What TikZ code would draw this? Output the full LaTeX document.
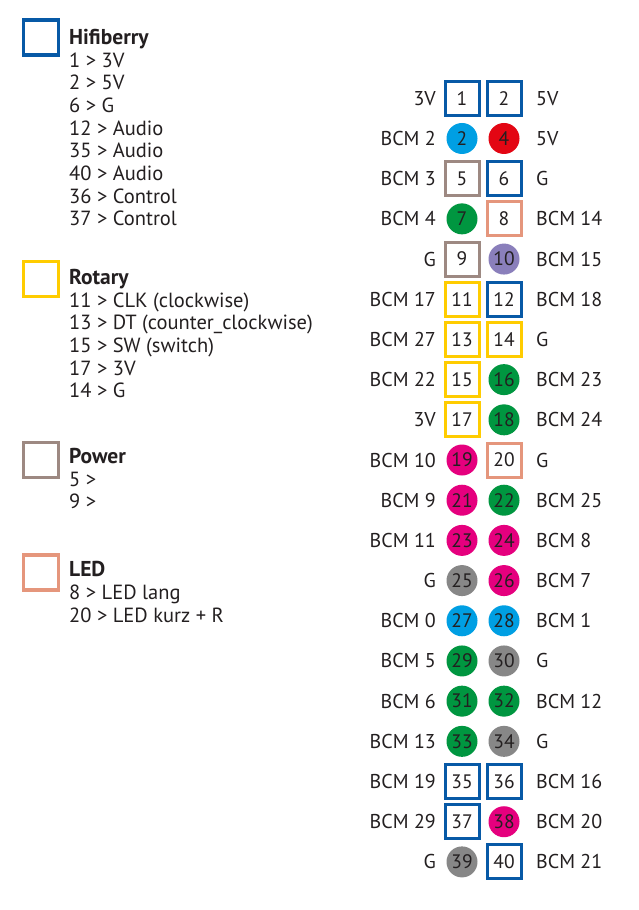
\documentclass[tikz,border=0pt]{standalone}
\usepackage{fontspec}
\setmainfont{PT Sans}
\definecolor{txt}{HTML}{231F20}
\definecolor{hifiblue}{HTML}{0759A6}
\definecolor{rotyel}{HTML}{FFCC00}
\definecolor{powgray}{HTML}{9D8982}
\definecolor{ledsal}{HTML}{E5967C}
\definecolor{ccyan}{HTML}{009FE3}
\definecolor{cred}{HTML}{E30613}
\definecolor{cgreen}{HTML}{009640}
\definecolor{cpurple}{HTML}{8A7FBB}
\definecolor{cmag}{HTML}{E5007E}
\definecolor{cgray}{HTML}{878787}
\begin{document}
\begin{tikzpicture}[x=1pt,y=-1pt,
  pinsq/.style={rectangle, draw=#1, line width=3pt, fill=white, minimum size=34pt, inner sep=0pt, text=txt, font=\fontsize{19.5}{19.5}\selectfont},
  pinci/.style={circle, fill=#1, draw=none, minimum size=31pt, inner sep=0pt, text=txt, font=\fontsize{19.5}{19.5}\selectfont},
  hifi/.style={pinsq=hifiblue},
  rot/.style={pinsq=rotyel},
  pow/.style={pinsq=powgray},
  led/.style={pinsq=ledsal},
  cyan/.style={pinci=ccyan},
  red/.style={pinci=cred},
  green/.style={pinci=cgreen},
  purple/.style={pinci=cpurple},
  mag/.style={pinci=cmag},
  gray/.style={pinci=cgray},
  lbl/.style={inner sep=0pt, text=txt, font=\fontsize{20}{20}\selectfont},
  legsq/.style={rectangle, draw=#1, line width=3.2pt, minimum size=35pt, inner sep=0pt},
  legtitle/.style={inner sep=0pt, anchor=base west, text=txt, font=\fontsize{21.5}{21.5}\selectfont\bfseries},
  legline/.style={inner sep=0pt, anchor=base west, text=txt, font=\fontsize{20.5}{20.5}\selectfont}
]
\useasboundingbox[fill=white] (0,0) rectangle (638,910);

% legend
\node[legsq=hifiblue] (sqhifi) at (41,37.5) {};
\node[legtitle] (thifi) at (69,44.3) {Hifiberry};
\foreach \t [count=\i from 1] in {1 > 3V, 2 > 5V, 6 > G, 12 > Audio, 35 > Audio, 40 > Audio, 36 > Control, 37 > Control}{
  \node[legline] (hifiline\i) at (69,44.3+22.7*\i) {\t};
}
\node[legsq=rotyel] (sqrot) at (41,279) {};
\node[legtitle] (trot) at (69,284.3) {Rotary};
\foreach \t [count=\i from 1] in {11 > CLK (clockwise), 13 > DT (counter\_clockwise), 15 > SW (switch), 17 > 3V, 14 > G}{
  \node[legline] (rotline\i) at (69,284.3+22.7*\i) {\t};
}
\node[legsq=powgray] (sqpow) at (41,460) {};
\node[legtitle] (tpow) at (69,463.3) {Power};
\foreach \t [count=\i from 1] in {5 >, 9 >}{
  \node[legline] (powline\i) at (69,463.3+22.7*\i) {\t};
}
\node[legsq=ledsal] (sqled) at (41,572.5) {};
\node[legtitle] (tled) at (69,576.7) {LED};
\foreach \t [count=\i from 1] in {8 > LED lang, 20 > LED kurz + R}{
  \node[legline] (ledline\i) at (69,576.7+22.7*\i) {\t};
}

% left column
\foreach \n/\t/\s/\l [count=\i from 0] in {
  1/1/hifi/3V, 3/2/cyan/BCM 2, 5/5/pow/BCM 3, 7/7/green/BCM 4, 9/9/pow/G,
  11/11/rot/BCM 17, 13/13/rot/BCM 27, 15/15/rot/BCM 22, 17/17/rot/3V, 19/19/mag/BCM 10,
  21/21/mag/BCM 9, 23/23/mag/BCM 11, 25/25/gray/G, 27/27/cyan/BCM 0, 29/29/green/BCM 5,
  31/31/green/BCM 6, 33/33/green/BCM 13, 35/35/hifi/BCM 19, 37/37/hifi/BCM 29, 39/39/gray/G}{
  \node[\s] (p\n) at (462,98.3+40.19*\i) {\t};
  \node[lbl, anchor=base east] (l\n) at (436,105.3+40.19*\i) {\l};
}
% right column
\foreach \n/\t/\s/\l [count=\i from 0] in {
  2/2/hifi/5V, 4/4/red/5V, 6/6/hifi/G, 8/8/led/BCM 14, 10/10/purple/BCM 15,
  12/12/hifi/BCM 18, 14/14/rot/G, 16/16/green/BCM 23, 18/18/green/BCM 24, 20/20/led/G,
  22/22/green/BCM 25, 24/24/mag/BCM 8, 26/26/mag/BCM 7, 28/28/cyan/BCM 1, 30/30/gray/G,
  32/32/green/BCM 12, 34/34/gray/G, 36/36/hifi/BCM 16, 38/38/mag/BCM 20, 40/40/hifi/BCM 21}{
  \node[\s] (p\n) at (504,98.3+40.19*\i) {\t};
  \node[lbl, anchor=base west] (l\n) at (536,105.3+40.19*\i) {\l};
}
\end{tikzpicture}
\end{document}
